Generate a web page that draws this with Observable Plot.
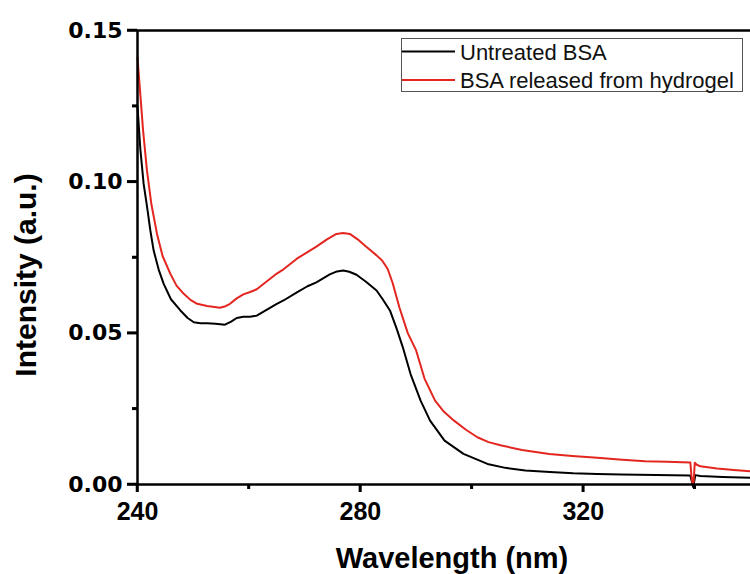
<!DOCTYPE html>
<html>
<head>
<meta charset="utf-8">
<script src="https://cdn.jsdelivr.net/npm/d3@7"></script>
<script src="https://cdn.jsdelivr.net/npm/@observablehq/plot@0.6"></script>
<style>
  html, body { margin: 0; padding: 0; background: white; overflow: hidden; }
  #chart { width: 750px; height: 574px; }
</style>
</head>
<body>
<div id="chart"></div>
<script>
// ---- data ----
const seriesNames = ["Untreated BSA", "BSA released from hydrogel"];
const seriesColors = ["#000000", "#e3261f"];

const untreatedNm = [240,240.5,241.1,241.7,242.3,242.9,243.8,244.7,246.0,247.7,249.0,250.1,251.3,252.5,254.0,255.7,256.8,257.8,259.0,260.2,261.4,263.0,265.0,266.2,268.6,270.5,272.1,274.5,275.8,276.9,278.0,279.3,281.0,282.9,284.0,285.3,286.5,287.6,289.0,290.8,292.5,295.1,298.5,302.8,306.0,309.6,314.0,318.2,322.5,326.8,333.0,339.2,339.5,339.7,339.9,340.1,341.0,345.0,350.0];
const untreatedIntensity = [0.125,0.111,0.0993,0.092,0.084,0.0773,0.0710,0.0663,0.0612,0.0575,0.0550,0.0536,0.0533,0.0533,0.0531,0.0528,0.0538,0.0550,0.0554,0.0554,0.0558,0.0575,0.0597,0.0608,0.0635,0.0655,0.0668,0.0694,0.0704,0.0707,0.0703,0.0693,0.0670,0.0641,0.0612,0.0575,0.0515,0.0454,0.0365,0.0277,0.0211,0.0145,0.0101,0.0068,0.0055,0.0046,0.0041,0.0037,0.0035,0.0033,0.0031,0.0030,0.0008,-0.0008,0.0010,0.0031,0.0028,0.0025,0.0022];

const releasedNm = [240,240.5,241.0,241.7,242.5,243.5,244.5,245.9,247.0,248.3,249.5,250.7,252.5,254.8,255.8,256.6,257.8,259.0,260.2,261.4,263.0,265.0,266.2,268.6,270.5,272.1,274.0,275.7,276.9,278.1,279.5,281.0,282.9,283.9,284.9,285.8,287.0,288.5,290.0,291.5,293.4,295.0,296.8,299.0,301.0,303.0,305.3,309.0,313.9,318.0,322.5,327.0,331.1,335.0,339.2,339.4,339.6,339.8,340.0,340.3,341.0,344.0,347.0,350.0];
const releasedIntensity = [0.141,0.129,0.117,0.1037,0.0925,0.0828,0.0755,0.0696,0.0657,0.0630,0.0610,0.0597,0.0590,0.0584,0.0589,0.0597,0.0615,0.0628,0.0636,0.0645,0.0668,0.0697,0.0711,0.0746,0.0768,0.0786,0.0810,0.0828,0.0831,0.0828,0.0810,0.0786,0.0757,0.0740,0.0712,0.0665,0.0585,0.0500,0.0443,0.0350,0.0277,0.0240,0.0211,0.0180,0.0156,0.0140,0.0129,0.0114,0.0101,0.0094,0.0088,0.0082,0.0077,0.0075,0.0073,0.0030,0.0002,0.0010,0.0072,0.0066,0.0060,0.0053,0.0048,0.0044];

const xMajorTicks = [240, 280, 320];
const xMinorTicks = [260, 300, 340];
const yMajorTicks = [0, 0.05, 0.10, 0.15];
const yMinorTicks = [0.025, 0.075, 0.125];
const xLabel = "Wavelength (nm)";
const yLabel = "Intensity (a.u.)";

// ---- build tables ----
const untreated = untreatedNm.map((x, i) => ({nm: x, v: untreatedIntensity[i]}));
const released = releasedNm.map((x, i) => ({nm: x, v: releasedIntensity[i]}));

const plot = Plot.plot({
  width: 750,
  height: 574,
  marginLeft: 137,
  marginRight: 0,
  marginTop: 30,
  marginBottom: 90,
  x: {domain: [240, 350]},
  y: {domain: [0, 0.15]},
  style: {fontFamily: "'Liberation Sans', Arial, sans-serif", background: "white", color: "black", overflow: "visible"},
  marks: [
    Plot.line(untreated, {x: "nm", y: "v", stroke: seriesColors[0], strokeWidth: 2}),
    Plot.line(released, {x: "nm", y: "v", stroke: seriesColors[1], strokeWidth: 2}),
    Plot.ruleX([240], {stroke: "black", strokeWidth: 2.5}),
    Plot.ruleY([0], {stroke: "black", strokeWidth: 2.5}),
    Plot.ruleY([0.15], {stroke: "black", strokeWidth: 2.5}),
    Plot.axisY(yMajorTicks, {stroke: "black", tickSize: 10, tickPadding: 5, strokeWidth: 2.5, tickFormat: d3.format(".2f"), fontSize: 22, fontWeight: "bold", fontFamily: "'DejaVu Sans', sans-serif", label: null}),
    Plot.axisY(yMinorTicks, {stroke: "black", tickSize: 5, strokeWidth: 2.5, tickFormat: () => "", label: null}),
    Plot.axisX(xMajorTicks, {stroke: "black", tickSize: 8, tickPadding: 10, strokeWidth: 2.5, fontSize: 25, fontWeight: "bold", label: null}),
    Plot.axisX(xMinorTicks, {stroke: "black", tickSize: 5, strokeWidth: 2.5, tickFormat: () => "", label: null})
  ]
});

document.getElementById("chart").appendChild(plot);

// ---- explicit tick marks through Plot's own scales ----
const svg = d3.select(plot);
const xs = plot.scale("x"), ys = plot.scale("y");
const x0 = xs.apply(240), y0 = ys.apply(0);
const tg = svg.append("g").attr("stroke", "#000").attr("stroke-width", 2.5);
yMajorTicks.forEach(v => tg.append("line").attr("x1", x0 - 10).attr("x2", x0).attr("y1", ys.apply(v)).attr("y2", ys.apply(v)));
yMinorTicks.forEach(v => tg.append("line").attr("x1", x0 - 5).attr("x2", x0).attr("y1", ys.apply(v)).attr("y2", ys.apply(v)));
xMajorTicks.forEach(v => tg.append("line").attr("x1", xs.apply(v)).attr("x2", xs.apply(v)).attr("y1", y0).attr("y2", y0 + 8));
xMinorTicks.forEach(v => tg.append("line").attr("x1", xs.apply(v)).attr("x2", xs.apply(v)).attr("y1", y0).attr("y2", y0 + 5));

// ---- axis titles and legend (pixel layout) ----
svg.append("text")
  .attr("x", 452).attr("y", 568)
  .attr("text-anchor", "middle")
  .attr("font-family", "'Liberation Sans', Arial, sans-serif")
  .attr("font-weight", "bold").attr("font-size", 29)
  .attr("fill", "black")
  .text(xLabel);
svg.append("text")
  .attr("transform", "translate(36,275) rotate(-90)")
  .attr("text-anchor", "middle")
  .attr("font-family", "'Liberation Sans', Arial, sans-serif")
  .attr("font-weight", "bold").attr("font-size", 30)
  .attr("fill", "black")
  .text(yLabel);

const lg = svg.append("g").attr("text-anchor", "start");
lg.append("rect")
  .attr("x", 401.5).attr("y", 38.5).attr("width", 341).attr("height", 53)
  .attr("fill", "white").attr("stroke", "#555").attr("stroke-width", 1);
seriesNames.forEach((name, i) => {
  const cy = 51.5 + i * 28.5;
  lg.append("line")
    .attr("x1", 402).attr("x2", 455).attr("y1", cy).attr("y2", cy)
    .attr("stroke", seriesColors[i]).attr("stroke-width", 2);
  lg.append("text")
    .attr("x", 460).attr("y", cy + 8)
    .attr("text-anchor", "start")
    .attr("font-family", "'Liberation Sans', Arial, sans-serif")
    .attr("font-size", 22).attr("fill", "#111")
    .text(name);
});
</script>
</body>
</html>
